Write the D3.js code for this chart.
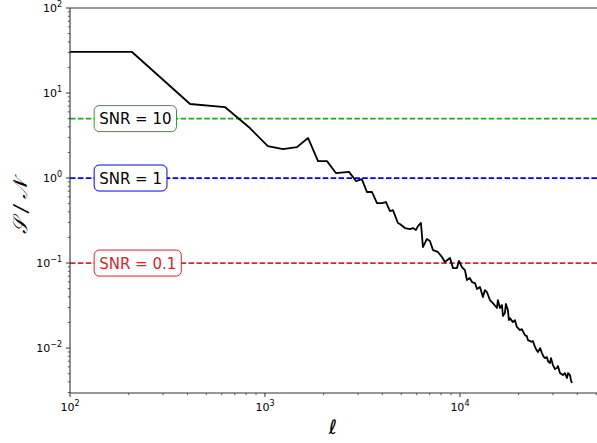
<!DOCTYPE html>
<html>
<head>
<meta charset="utf-8">
<script src="https://cdn.jsdelivr.net/npm/d3@7"></script>
<style>
  body { margin: 0; background: #fff; }
  text { font-family: "DejaVu Sans", sans-serif; }
</style>
</head>
<body>
<svg id="chart" width="597" height="443"></svg>
<script>
// multipole values
const ell = [100, 208, 413, 623, 837, 1035, 1236, 1459, 1663, 1871,
  2080, 2311, 2698, 2931, 3141, 3334, 3540, 3754, 3981, 4175,
  4376, 4533, 4808, 4920, 5224, 5546, 5741, 5945, 6091, 6310,
  6460, 6772, 7017, 7271, 7709, 8085, 8375, 8891, 9210, 9656,
  9885, 10240, 10610, 10860, 11250, 11530, 11940, 12230, 12670, 13120,
  13430, 13750, 14250, 14760, 15480, 15660, 16040, 16420, 16620, 17010,
  17210, 17620, 17830, 18040, 18690, 19150, 19590, 20300, 20780, 21540,
  22040, 22320, 23390, 23680, 24260, 24560, 25120, 25780, 26360, 26760,
  27300, 27940, 28270, 28950, 29300, 29990, 30730, 31440, 31830, 32580,
  33760, 34550, 35400, 35840, 36680, 37100, 37530];
// signal / noise
const sn = [30.4, 30.4, 7.43, 6.84, 3.87, 2.38, 2.19, 2.31, 2.96, 1.58,
  1.58, 1.145, 1.18, 0.922, 0.97, 0.685, 0.685, 0.508, 0.508, 0.522,
  0.409, 0.42, 0.296, 0.288, 0.258, 0.251, 0.258, 0.245, 0.272, 0.296,
  0.154, 0.192, 0.182, 0.142, 0.135, 0.118, 0.103, 0.115, 0.0873, 0.0873,
  0.106, 0.0897, 0.0827, 0.0631, 0.0666, 0.0598, 0.0582, 0.0494, 0.0522, 0.0398,
  0.0481, 0.0456, 0.0367, 0.0338, 0.0296, 0.0367, 0.0296, 0.0321, 0.0238, 0.0258,
  0.033, 0.028, 0.0213, 0.0225, 0.0202, 0.0213, 0.0177, 0.0163, 0.0167, 0.0142,
  0.0138, 0.0124, 0.0118, 0.0121, 0.0103, 0.00973, 0.00897, 0.00999, 0.00873, 0.00805,
  0.00762, 0.00783, 0.00703, 0.00667, 0.00762, 0.00631, 0.00566, 0.00582, 0.00614, 0.00508,
  0.00481, 0.00508, 0.00444, 0.00508, 0.00481, 0.00421, 0.00388];

// reference levels and their boxes
const levels = [5, 1, 0.1];
const levelLabels = ["SNR = 10", "SNR = 1", "SNR = 0.1"];
const levelColors = ["#2ca02c", "#0000ee", "#d62728"];
const levelTextColors = ["#000", "#000", "#d62728"];
const labelEll = 133;

const yTicks = [100, 10, 1, 0.1, 0.01];
const yTickExp = ["2", "1", "0", "\u22121", "\u22122"];
const xTicks = [100, 1000, 10000];
const xTickExp = ["2", "3", "4"];

const margin = { top: 8, left: 70 };
const W = 527, H = 385;

const svg = d3.select("#chart");
const g = svg.append("g").attr("transform", `translate(${margin.left},${margin.top})`);

const x = d3.scaleLog().domain([100, 50470]).range([0, W]);
const y = d3.scaleLog().domain([0.00296, 100]).range([H, 0]);

svg.append("defs").append("clipPath").attr("id", "clip")
  .append("rect").attr("width", W).attr("height", H);

// minor ticks
const minor = (lo, hi) => {
  const out = [];
  for (let e = lo; e <= hi; e++)
    for (let m = 2; m <= 9; m++) out.push(m * Math.pow(10, e));
  return out;
};
const xMinor = minor(2, 4).filter(v => v < 50470);
const yMinor = minor(-3, 1).filter(v => v > 0.00296 && v < 100);

const tickColor = "#333";
g.append("g").selectAll("line").data(xMinor).enter().append("line")
  .attr("x1", d => x(d)).attr("x2", d => x(d))
  .attr("y1", H).attr("y2", H + 2.2)
  .attr("stroke", tickColor).attr("stroke-width", 0.8);
g.append("g").selectAll("line").data(xTicks).enter().append("line")
  .attr("x1", d => x(d)).attr("x2", d => x(d))
  .attr("y1", H).attr("y2", H + 4)
  .attr("stroke", tickColor).attr("stroke-width", 1);
g.append("g").selectAll("line").data(yMinor).enter().append("line")
  .attr("y1", d => y(d)).attr("y2", d => y(d))
  .attr("x1", 0).attr("x2", -2.2)
  .attr("stroke", tickColor).attr("stroke-width", 0.8);
g.append("g").selectAll("line").data(yTicks).enter().append("line")
  .attr("y1", d => y(d)).attr("y2", d => y(d))
  .attr("x1", 0).attr("x2", -4)
  .attr("stroke", tickColor).attr("stroke-width", 1);

// tick labels
const yl = g.append("g").selectAll("text").data(yTicks).enter().append("text")
  .attr("x", -8).attr("y", d => y(d) + 4)
  .attr("text-anchor", "end").attr("font-size", 11).attr("fill", "#000");
yl.append("tspan").text("10");
yl.append("tspan").attr("font-size", 8).attr("dy", -5).text((d, i) => yTickExp[i]);

const xl = g.append("g").selectAll("text").data(xTicks).enter().append("text")
  .attr("x", d => x(d)).attr("y", H + 18)
  .attr("text-anchor", "middle").attr("font-size", 11).attr("fill", "#000");
xl.append("tspan").text("10");
xl.append("tspan").attr("font-size", 8).attr("dy", -5).text((d, i) => xTickExp[i]);

// dashed level lines
g.append("g").selectAll("line").data(levels).enter().append("line")
  .attr("x1", 0).attr("x2", W)
  .attr("y1", d => y(d)).attr("y2", d => y(d))
  .attr("stroke", (d, i) => levelColors[i]).attr("stroke-width", 1.7)
  .attr("stroke-dasharray", "5.5,2.4");

// the curve
g.append("path").datum(ell.map((e, i) => [e, sn[i]]))
  .attr("clip-path", "url(#clip)")
  .attr("fill", "none").attr("stroke", "#000").attr("stroke-width", 1.8)
  .attr("stroke-linejoin", "round")
  .attr("d", d3.line().x(d => x(d[0])).y(d => y(d[1])));

// labels
levels.forEach((lv, i) => {
  const lg = g.append("g");
  const t = lg.append("text")
    .attr("x", x(labelEll) + 5).attr("y", y(lv) + 5.5)
    .attr("font-size", 15).attr("fill", levelTextColors[i])
    .text(levelLabels[i]);
  const bb = t.node().getBBox();
  lg.insert("rect", "text")
    .attr("x", bb.x - 5).attr("y", y(lv) - 13)
    .attr("width", bb.width + 10).attr("height", 26)
    .attr("rx", 5).attr("ry", 5)
    .attr("fill", "#fff").attr("stroke", levelColors[i]).attr("stroke-width", 1);
});

// spines
g.append("line").attr("x1", 0).attr("x2", 0).attr("y1", 0).attr("y2", H)
  .attr("stroke", "#333").attr("stroke-width", 1.1);
g.append("line").attr("x1", 0).attr("x2", W).attr("y1", H).attr("y2", H)
  .attr("stroke", "#333").attr("stroke-width", 1.1);
g.append("line").attr("x1", 0).attr("x2", W).attr("y1", 0).attr("y2", 0)
  .attr("stroke", "#333").attr("stroke-width", 1.1);

// axis titles
svg.append("text").attr("x", 333).attr("y", 434)
  .attr("text-anchor", "middle").attr("font-size", 20).attr("font-style", "italic")
  .text("\u2113");
svg.append("text")
  .attr("transform", "translate(27,207) rotate(-90)")
  .attr("text-anchor", "middle").attr("font-size", 20)
  .attr("font-family", "DejaVu Serif").attr("font-style", "italic")
  .text("\uD835\uDCAE / \uD835\uDCA9");
</script>
</body>
</html>
